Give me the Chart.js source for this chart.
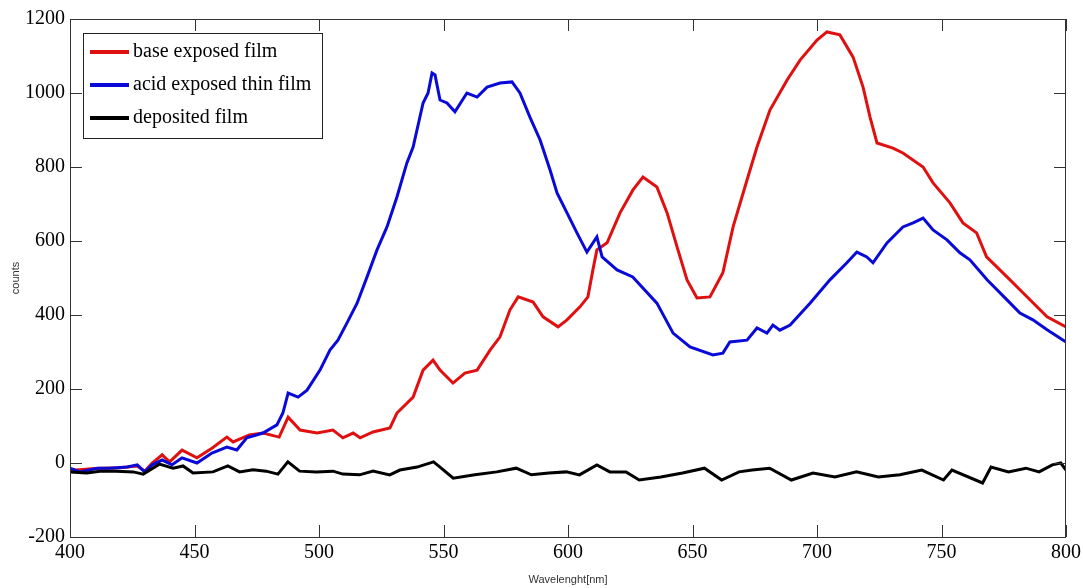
<!DOCTYPE html>
<html>
<head>
<meta charset="utf-8">
<script src="https://cdn.jsdelivr.net/npm/chart.js@4"></script>
<style>
  body { margin: 0; background: #fff; }
  #wrap { width: 1083px; height: 588px; }
</style>
</head>
<body>
<div id="wrap"><canvas id="myChart"></canvas></div>
<script>
// datos
const xTicks = [400, 450, 500, 550, 600, 650, 700, 750, 800];
const yTicks = [-200, 0, 200, 400, 600, 800, 1000, 1200];

const baseWl = [400, 410, 420, 427, 430, 433, 437, 440, 445, 451, 457, 463, 465.5, 472, 477.5, 484, 487.6, 492.4, 499.2, 505.6, 509.6, 513.7, 516.5, 521.7, 528.5, 531.3, 537.8, 541.8, 545.8, 548.6, 553.8, 558.6, 563.5, 568.7, 572.7, 576.7, 580, 586, 590, 596, 599.6, 604.8, 608, 610, 611.6, 615.7, 620.9, 626.1, 630.1, 635.7, 639.8, 643.8, 647.8, 651.8, 657, 662.2, 666.3, 671.9, 675.9, 681.1, 688, 693.2, 700, 704, 709.2, 714.5, 718.5, 721.3, 724.1, 730.5, 734.5, 742.6, 746.6, 753.4, 758.6, 764.1, 768.1, 776.3, 782.7, 792.4, 800];
const baseCounts = [-20, -15, -13, -8, -22, 0, 22, 3, 35, 14, 40, 70, 57, 76, 81, 70, 124, 89, 81, 89, 68, 81, 68, 84, 95, 135, 178, 251, 278, 251, 216, 243, 251, 305, 341, 414, 449, 435, 395, 368, 387, 422, 449, 522, 576, 595, 676, 738, 773, 746, 676, 584, 495, 446, 449, 514, 638, 765, 854, 954, 1035, 1089, 1143, 1165, 1157, 1097, 1016, 935, 865, 851, 838, 800, 757, 703, 649, 622, 557, 503, 460, 395, 368];

const acidWl = [400, 404, 411, 416, 423, 427, 430, 433, 437, 441, 445, 451, 457, 463, 467, 471, 477.5, 483.1, 485.5, 487.6, 491.6, 495.2, 500.4, 504.4, 507.6, 511.2, 515.3, 519.3, 523.3, 527.3, 531.3, 535.3, 537.8, 541.8, 543.8, 545.4, 546.6, 548.6, 551.4, 554.6, 559.4, 563.5, 567.5, 572.7, 577.5, 580.7, 584.7, 588.8, 592.8, 595.6, 599.6, 603.6, 607.6, 611.6, 613.7, 619.7, 626, 635.7, 642.2, 649, 658.2, 662.2, 665, 671.9, 675.9, 679.9, 682.3, 685.1, 689.2, 697.2, 705.2, 712, 716, 720, 722.5, 728.1, 734.5, 738.6, 742.6, 746.6, 752.2, 757.4, 761.4, 768.3, 776.3, 781.5, 786.7, 792.4, 800];
const acidCounts = [-14, -24, -14, -14, -11, -5, -24, -5, 8, -5, 14, 0, 27, 43, 35, 68, 81, 103, 135, 189, 178, 197, 251, 305, 332, 378, 432, 503, 576, 638, 719, 811, 854, 973, 1000, 1054, 1049, 981, 973, 949, 1000, 989, 1016, 1027, 1030, 1000, 935, 873, 792, 730, 676, 622, 570, 611, 557, 522, 503, 432, 351, 314, 292, 297, 327, 332, 365, 351, 373, 359, 373, 432, 495, 541, 570, 557, 541, 595, 638, 649, 662, 630, 603, 568, 549, 495, 441, 405, 387, 360, 327];

const depWl = [400, 406.7, 412, 418.7, 425.4, 429.4, 435.9, 441.4, 445.4, 449.4, 457.4, 463.4, 468.1, 473.5, 478.8, 483.5, 487.5, 492.2, 498.9, 505.6, 509.6, 516.3, 521.7, 528.4, 532.5, 539.4, 546, 548.6, 553.9, 562.6, 571.4, 579.2, 585.3, 592.3, 599.3, 604.6, 611.6, 616.8, 623.3, 628.6, 637.3, 646, 654.8, 661.7, 668.7, 674, 681, 689.7, 698.4, 707.2, 715.9, 724.6, 733.3, 742.1, 750.8, 754.2, 766.5, 769.9, 776.9, 783.9, 789.2, 794.5, 797.9, 800];
const depCounts = [-24, -27, -22, -22, -24, -30, -3, -14, -8, -27, -24, -8, -24, -18, -22, -30, 3, -22, -24, -22, -30, -32, -22, -32, -19, -11, 3, -11, -41, -32, -24, -14, -32, -27, -24, -32, -5, -24, -24, -46, -38, -27, -14, -46, -24, -19, -14, -46, -27, -38, -24, -38, -32, -19, -46, -19, -54, -11, -24, -14, -24, -5, 0, -19];

const serie = (wl, c) => wl.map((x, i) => ({ x: x, y: c[i] }));

const fuenteNum = { family: '"Liberation Serif", "Times New Roman", serif', size: 20 };

// marco, ticks hacia adentro y leyenda estilo matlab
const marcoMatlab = {
  id: 'marcoMatlab',
  afterDraw(chart) {
    const { ctx, chartArea: a, scales } = chart;
    ctx.save();
    ctx.strokeStyle = '#333';
    ctx.lineWidth = 1;
    ctx.strokeRect(a.left + 0.5, a.top + 0.5, a.right - a.left - 1, a.bottom - a.top);
    ctx.beginPath();
    xTicks.forEach(v => {
      const px = Math.round(scales.x.getPixelForValue(v)) + 0.5;
      ctx.moveTo(px, a.bottom); ctx.lineTo(px, a.bottom - 12);
      ctx.moveTo(px, a.top); ctx.lineTo(px, a.top + 12);
    });
    yTicks.forEach(v => {
      const py = Math.round(scales.y.getPixelForValue(v)) + 0.5;
      ctx.moveTo(a.left, py); ctx.lineTo(a.left + 12, py);
      ctx.moveTo(a.right, py); ctx.lineTo(a.right - 12, py);
    });
    ctx.stroke();

    // leyenda
    const lx = a.left + 13, ly = a.top + 14;
    ctx.fillStyle = '#fff';
    ctx.fillRect(lx, ly, 239, 105);
    ctx.strokeStyle = '#222';
    ctx.strokeRect(lx + 0.5, ly + 0.5, 239, 105);
    ctx.font = '20px ' + fuenteNum.family;
    ctx.textBaseline = 'middle';
    chart.data.datasets.forEach((ds, i) => {
      const y = ly + 19 + i * 33;
      ctx.strokeStyle = ds.borderColor;
      ctx.lineWidth = 4;
      ctx.beginPath();
      ctx.moveTo(lx + 7, y); ctx.lineTo(lx + 46, y);
      ctx.stroke();
      ctx.fillStyle = '#000';
      ctx.fillText(ds.label, lx + 50, y);
    });
    ctx.restore();
  }
};

const data = {
  datasets: [{
    label: 'base exposed film',
    data: serie(baseWl, baseCounts),
    borderColor: '#e01010',
    order: 3
  }, {
    label: 'acid exposed thin film',
    data: serie(acidWl, acidCounts),
    borderColor: '#0a0ad8',
    order: 2
  }, {
    label: 'deposited film',
    data: serie(depWl, depCounts),
    borderColor: '#000',
    order: 1
  }]
};

const config = {
  type: 'line',
  data: data,
  options: {
    responsive: true,
    maintainAspectRatio: false,
    animation: false,
    layout: { padding: { top: 19, right: 17 } },
    elements: {
      line: { borderWidth: 3, tension: 0 },
      point: { radius: 0 }
    },
    plugins: {
      legend: { display: false },
      tooltip: { enabled: false }
    },
    scales: {
      x: {
        type: 'linear',
        min: 400, max: 800,
        afterBuildTicks: s => { s.ticks = xTicks.map(v => ({ value: v })); },
        afterFit: s => { s.height = 51; s.paddingLeft = 0; s.paddingRight = 0; },
        grid: { display: false, drawTicks: false },
        border: { display: false },
        ticks: { color: '#000', font: fuenteNum, padding: 4, maxRotation: 0, callback: v => String(v) },
        title: {
          display: true, text: 'Wavelenght[nm]', color: '#333',
          font: { family: '"Liberation Sans", Arial, sans-serif', size: 11 },
          padding: { top: 0, bottom: 1 }
        }
      },
      y: {
        min: -200, max: 1200,
        afterBuildTicks: s => { s.ticks = yTicks.map(v => ({ value: v })); },
        afterFit: s => { s.width = 70; },
        grid: { display: false, drawTicks: false },
        border: { display: false },
        ticks: { color: '#000', font: fuenteNum, padding: 5, callback: v => String(v) },
        title: {
          display: true, text: 'counts', color: '#333',
          font: { family: '"Liberation Sans", Arial, sans-serif', size: 11 },
          padding: { top: 9, bottom: 0 }
        }
      }
    }
  },
  plugins: [marcoMatlab]
};

const myChart = new Chart(document.getElementById('myChart').getContext('2d'), config);
</script>
</body>
</html>
